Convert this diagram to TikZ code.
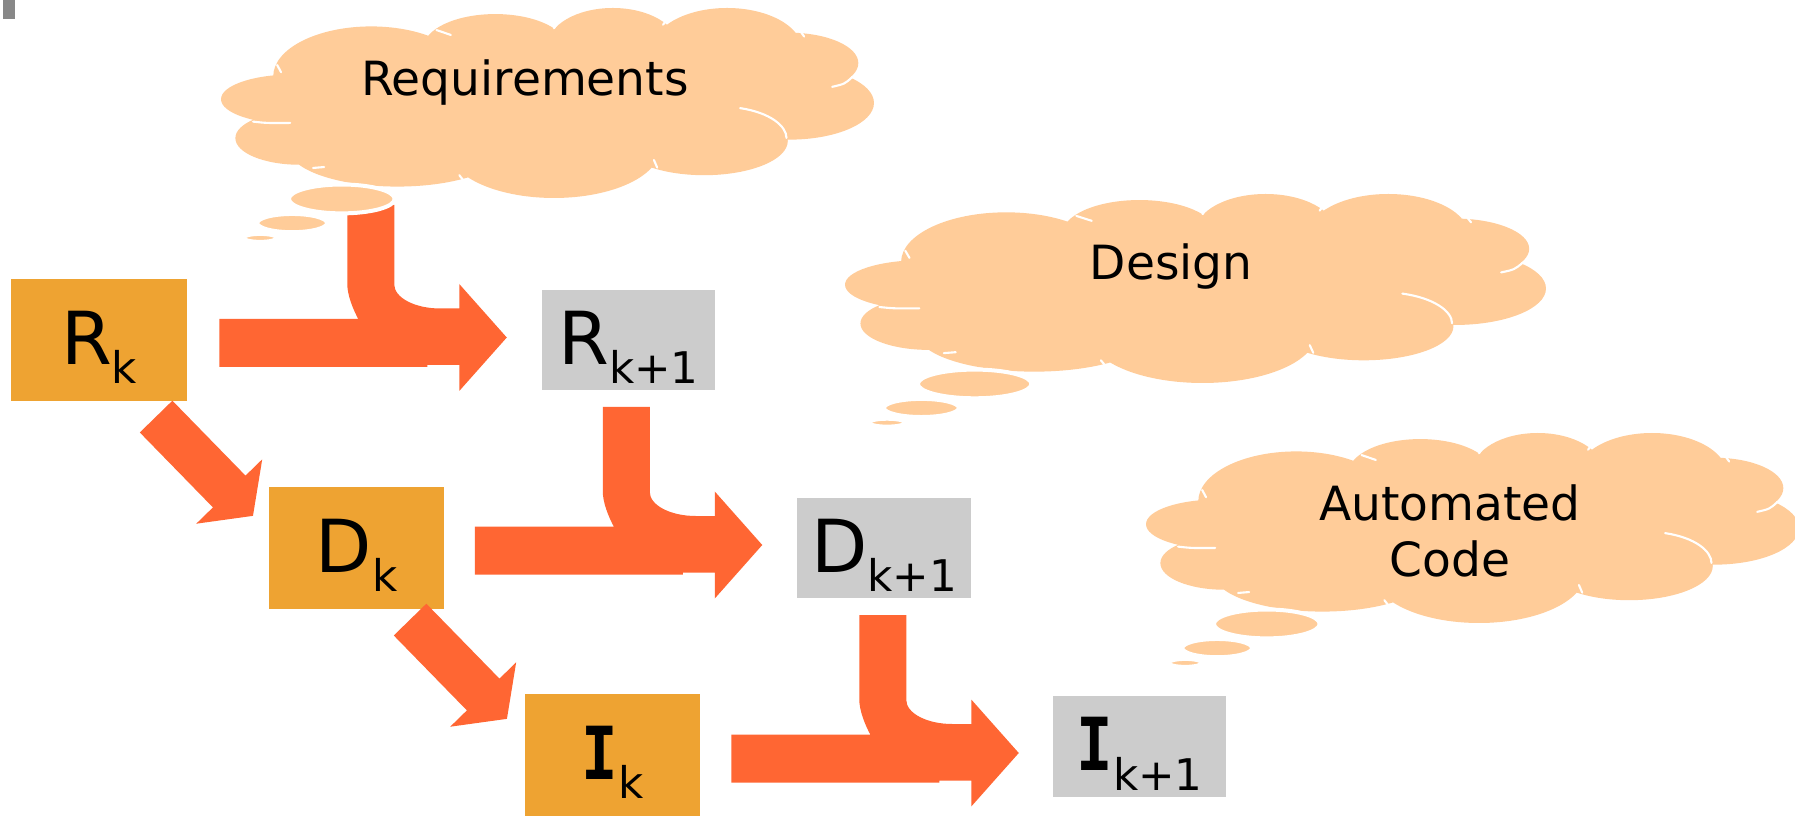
\documentclass[tikz,border=0pt]{standalone}
\usepackage{graphicx}
\usepackage{fontspec}
\setmainfont{DejaVu Sans}
\newfontfamily\slabfont{DejaVu Sans Mono}
\usetikzlibrary{calc}

\definecolor{arrowc}{HTML}{FF6633}
\definecolor{stagec}{HTML}{EEA332}
\definecolor{nextc}{HTML}{CCCCCC}
\definecolor{cloudc}{HTML}{FFCC99}
\definecolor{markc}{HTML}{888888}

% stage label: big letter with a lowered index, baseline set below the box centre
\newcommand\stagelabel[2]{\raisebox{-0.24cm}[0pt][0pt]{\fontsize{20.8pt}{24pt}\selectfont #1\raisebox{-0.195cm}{\fontsize{12.4pt}{14pt}\selectfont #2}}}
% capital I with slab bars
\newcommand\slabI{\scalebox{0.83}[1]{\slabfont\bfseries I}}

\tikzset{
  % thought cloud in a unit box (y grows downwards), bubbles trailing to the lower left
  thoughtcloud/.pic={
    \fill[cloudc]
      (0.23,0.36) ellipse [x radius=0.15, y radius=0.263]
      (0.42,0.21) ellipse [x radius=0.11, y radius=0.178]
      (0.60,0.20) ellipse [x radius=0.10, y radius=0.20]
      (0.775,0.22) ellipse [x radius=0.115, y radius=0.22]
      (0.87,0.29) ellipse [x radius=0.106, y radius=0.16]
      (0.87,0.50) ellipse [x radius=0.13, y radius=0.193]
      (0.74,0.70) ellipse [x radius=0.128, y radius=0.18]
      (0.51,0.74) ellipse [x radius=0.162, y radius=0.26]
      (0.27,0.74) ellipse [x radius=0.166, y radius=0.20]
      (0.12,0.685) ellipse [x radius=0.098, y radius=0.14]
      (0.11,0.48) ellipse [x radius=0.11, y radius=0.13]
      (0.5,0.5) ellipse [x radius=0.36, y radius=0.33];
    \draw[white, line width=0.6pt, line cap=round]
      (0.086,0.30) -- (0.092,0.338)
      (0.049,0.598) .. controls (0.07,0.606) .. (0.106,0.605)
      (0.141,0.842) -- (0.158,0.837)
      (0.365,0.88) -- (0.374,0.92)
      (0.663,0.80) -- (0.668,0.84)
      (0.795,0.527) .. controls (0.84,0.55) and (0.866,0.62) .. (0.866,0.684)
      (0.936,0.415) .. controls (0.955,0.40) .. (0.967,0.363)
      (0.884,0.107) -- (0.893,0.15)
      (0.677,0.088) -- (0.686,0.045)
      (0.51,0.107) -- (0.516,0.07)
      (0.33,0.116) -- (0.352,0.142);
    \filldraw[fill=cloudc, draw=white, line width=0.04cm]
      (0.185,1.005) ellipse [x radius=0.081, y radius=0.076]
      (0.109,1.132) ellipse [x radius=0.0535, y radius=0.048]
      (0.06,1.21) ellipse [x radius=0.026, y radius=0.021];
  },
  % straight block arrow joined by a bent arrow coming down from above;
  % origin at the middle of the head base, argument = top of the bent part
  bentarrow/.pic={
    \fill[arrowc] (-240,-18.5) -- (-101,-18.5)
      .. controls (-106,-28) and (-112,-42) .. (-112,-54)
      -- (-112,#1) -- (-65,#1) -- (-65,-53)
      .. controls (-65,-39.8) and (-44.3,-29) .. (-19,-29)
      -- (0,-29) -- (0,-53.5) -- (47.5,0) -- (0,53.5) -- (0,27.5)
      -- (-32,27.5) -- (-32,29.5) -- (-240,29.5) -- cycle;
  },
  % block arrow along +x, origin at the middle of its tail
  diagarrow/.pic={
    \fill[arrowc] (0,-22.75) -- (104.7,-22.75) -- (104.7,-46.1) -- (138.7,0)
      -- (104.7,46.1) -- (104.7,22.75) -- (0,22.75) -- cycle;
  },
  stagebox/.style={fill=stagec, inner sep=0pt, minimum width=1.751cm, minimum height=1.22cm},
  nextbox/.style={fill=nextc, inner sep=0pt, minimum width=1.73cm, minimum height=1cm},
  thought/.style={font=\fontsize{13.4pt}{16pt}\selectfont, inner sep=0pt, anchor=base}
}

\begin{document}
\begin{tikzpicture}[x={(0.01cm,0)}, y={(0,-0.01cm)}]
\useasboundingbox (0,0) rectangle (1795,816);
\fill[white] (0,0) rectangle (1795,816);
\fill[markc] (3.3,0) rectangle (15,19.3);

% current iteration (orange) and next iteration (grey)
\node[stagebox] (Rk) at (99.05,340) {\stagelabel{R}{k}};
\node[stagebox] (Dk) at (356.5,548) {\stagelabel{D}{k}};
\node[stagebox] (Ik) at (612.5,755) {\stagelabel{\slabI}{k}};
\node[nextbox] (Rk1) at (628.5,340) {\stagelabel{R}{k+1}};
\node[nextbox] (Dk1) at (884,548) {\stagelabel{D}{k+1}};
\node[nextbox] (Ik1) at (1139.5,746.5) {\stagelabel{\slabI}{k+1}};

% horizontal arrows into the next iteration
\pic at ($(Rk1.west)+(-82,-2.5)$) {bentarrow=-132.5};
\pic at ($(Dk1.west)+(-82,-3)$) {bentarrow=-138};
\pic at ($(Ik1.west)+(-81,6.5)$) {bentarrow=-138};

% diagonal arrows down the current iteration
\begin{scope}[shift={($(Rk.south east)+(-31.25,14.85)$)}, rotate=-45.7]
  \pic[transform shape] {diagarrow};
\end{scope}
\begin{scope}[shift={($(Dk.south east)+(-34.75,9.85)$)}, rotate=-45.7]
  \pic[transform shape] {diagarrow};
\end{scope}

% thought clouds
\begin{scope}[shift={(221,8)}, xscale=653, yscale=190]
  \pic[transform shape] {thoughtcloud};
\end{scope}
\begin{scope}[shift={(845,194)}, xscale=701, yscale=189]
  \pic[transform shape] {thoughtcloud};
\end{scope}
\begin{scope}[shift={(1146,433)}, xscale=653, yscale=190]
  \pic[transform shape] {thoughtcloud};
\end{scope}

\node[thought] (req) at (525,96) {Requirements};
\node[thought] (des) at (1171.3,280) {Design};
\node[thought] (auto1) at (1450,520) {Automated};
\node[thought] (auto2) at (1450,576) {Code};
\end{tikzpicture}
\end{document}
